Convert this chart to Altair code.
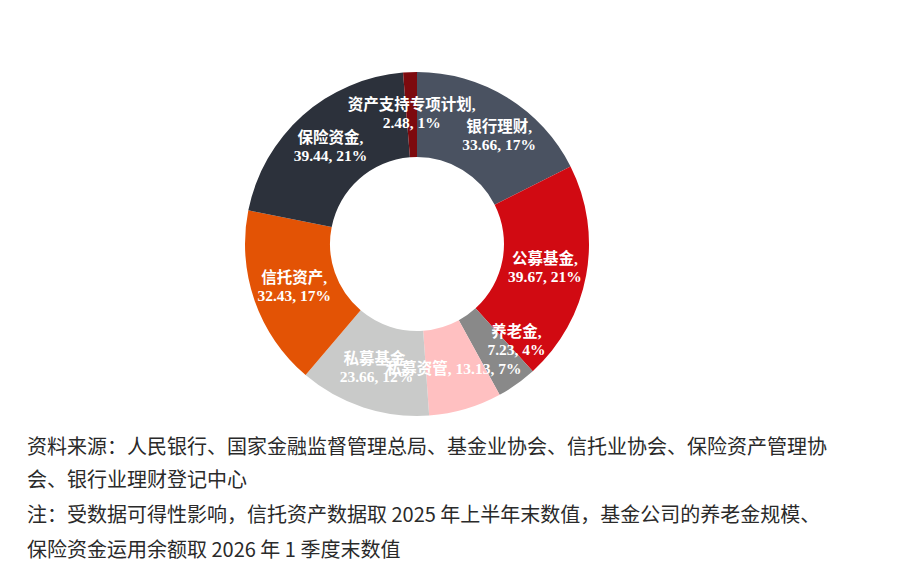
import math
import altair as alt
import pandas as pd

categories = ["银行理财", "公募基金", "养老金", "私募资管", "私募基金", "信托资产", "保险资金", "资产支持专项计划"]
values = [33.66, 39.67, 7.23, 13.13, 23.66, 32.43, 39.44, 2.48]
percents = ["17%", "21%", "4%", "7%", "12%", "17%", "21%", "1%"]
colors = ["#4a5261", "#d10a12", "#898989", "#ffc0c1", "#c9cac9", "#e35305", "#2c313b", "#7d0a0e"]
single_line = ["私募资管"]

notes = [
    "资料来源：人民银行、国家金融监督管理总局、基金业协会、信托业协会、保险资产管理协",
    "会、银行业理财登记中心",
    "注：受数据可得性影响，信托资产数据取 2025 年上半年末数值，基金公司的养老金规模、",
    "保险资金运用余额取 2026 年 1 季度末数值",
]

rows = []
for i, (c, v, p) in enumerate(zip(categories, values, percents)):
    if c in single_line:
        label = f"{c}, {v:.2f}, {p}"
    else:
        label = f"{c},\n{v:.2f}, {p}"
    rows.append({"idx": i, "category": c, "value": v, "label": label})
df = pd.DataFrame(rows)

CX, CY = 409, 236
theta_scale = alt.Scale(domain=[0, 1], range=[0, 2 * math.pi])

base = (
    alt.Chart(df)
    .transform_window(cum="sum(value)", sort=[alt.SortField("idx")], frame=[None, 0])
    .transform_joinaggregate(total="sum(value)")
    .transform_calculate(
        f0="(datum.cum - datum.value) / datum.total",
        f1="datum.cum / datum.total",
        fm="(datum.cum - datum.value / 2) / datum.total",
    )
    .encode(x=alt.value(CX), y=alt.value(CY))
)

arc = base.mark_arc(outerRadius=172, innerRadius=87).encode(
    theta=alt.Theta("f0:Q", scale=theta_scale),
    theta2="f1:Q",
    color=alt.Color("category:N", scale=alt.Scale(domain=categories, range=colors), legend=None),
)

# label placement tweaks (style only): default offset and a few nudges
nudges = {"银行理财": (14, -6), "养老金": (24, -18), "私募资管": (0, 0)}
default_nudge = (0, -9)

text_style = dict(
    radius=130,
    color="white",
    fontWeight="bold",
    fontSize=15.5,
    font="Liberation Serif, Noto Sans CJK SC",
    lineBreak="\n",
    lineHeight=18,
    align="center",
    baseline="middle",
)

label_layers = []
others = [c for c in categories if c not in nudges]
label_layers.append(
    base.transform_filter(alt.FieldOneOfPredicate(field="category", oneOf=others))
    .mark_text(dx=default_nudge[0], dy=default_nudge[1], **text_style)
    .encode(theta=alt.Theta("fm:Q", scale=theta_scale), text="label:N")
)
for c, (ddx, ddy) in nudges.items():
    label_layers.append(
        base.transform_filter(alt.FieldEqualPredicate(field="category", equal=c))
        .mark_text(dx=ddx, dy=ddy, **text_style)
        .encode(theta=alt.Theta("fm:Q", scale=theta_scale), text="label:N")
    )

note_layers = []
note_y = [440, 473, 508, 543]
for line, yy in zip(notes, note_y):
    note_layers.append(
        alt.Chart(pd.DataFrame({"t": [line]}))
        .mark_text(
            align="left",
            baseline="middle",
            fontSize=20,
            font="Noto Sans CJK SC",
            color="#2a2a2a",
        )
        .encode(text="t:N", x=alt.value(19), y=alt.value(yy))
    )

chart = alt.layer(arc, *label_layers, *note_layers).properties(
    width=884, height=570, padding=0, autosize="none"
).configure_view(stroke=None)

chart.save("out.html", embed_options={"renderer": "svg", "actions": False})
